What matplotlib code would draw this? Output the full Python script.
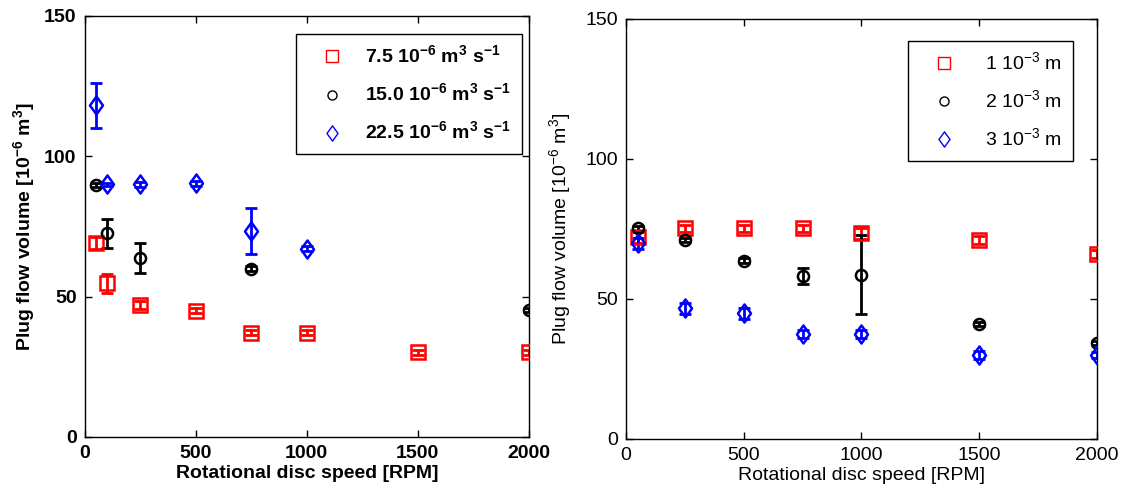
import matplotlib
matplotlib.use('Agg')
import matplotlib.pyplot as plt
from matplotlib.path import Path
import numpy as np

plt.rcParams['font.family'] = ['Liberation Sans', 'DejaVu Sans']
plt.rcParams['mathtext.fontset'] = 'custom'
plt.rcParams['mathtext.rm'] = 'Liberation Sans'
plt.rcParams['mathtext.bf'] = 'Liberation Sans:bold'

# left panel: different flow rates
l_red_x = [50, 100, 250, 500, 750, 1000, 1500, 2000]
l_red_y = [69.1, 54.7, 47.0, 45.0, 37.2, 37.2, 30.1, 30.1]
l_red_e = [2.0, 3.5, 1.5, 1.0, 0.8, 0.8, 0.8, 0.8]

l_blk_x = [50, 100, 250, 750, 2000]
l_blk_y = [89.7, 72.5, 63.7, 60.0, 45.2]
l_blk_e = [0.6, 5.3, 5.4, 1.0, 0.8]

l_blu_x = [50, 100, 250, 500, 750, 1000]
l_blu_y = [118.1, 90.0, 90.0, 90.3, 73.3, 67.1]
l_blu_e = [8.1, 0.5, 1.0, 1.0, 8.1, 1.0]

# right panel: different sizes
r_red_x = [50, 250, 500, 750, 1000, 1500, 2000]
r_red_y = [72.0, 75.2, 75.2, 75.2, 73.4, 71.1, 66.0]
r_red_e = [2.0, 1.2, 1.2, 1.2, 2.0, 1.5, 1.5]

r_blk_x = [50, 250, 500, 750, 1000, 1500, 2000]
r_blk_y = [75.2, 71.1, 63.7, 58.2, 58.6, 41.0, 34.2]
r_blk_e = [1.0, 0.8, 0.8, 2.7, 14.1, 0.8, 0.8]

r_blu_x = [50, 250, 500, 750, 1000, 1500, 2000]
r_blu_y = [69.9, 46.7, 44.9, 37.4, 37.4, 30.0, 30.0]
r_blu_e = [2.0, 2.0, 2.0, 1.5, 1.5, 1.5, 1.0]

left_labels = [r'7.5 10$^{\mathbf{-6}}$ m$^{\mathbf{3}}$ s$^{\mathbf{-1}}$',
               r'15.0 10$^{\mathbf{-6}}$ m$^{\mathbf{3}}$ s$^{\mathbf{-1}}$',
               r'22.5 10$^{\mathbf{-6}}$ m$^{\mathbf{3}}$ s$^{\mathbf{-1}}$']
right_labels = [r'1 10$^{-3}$ m', r'2 10$^{-3}$ m', r'3 10$^{-3}$ m']

xticks = [0, 500, 1000, 1500, 2000]
yticks = [0, 50, 100, 150]

# matlab-like diamond (taller than wide)
diamond = Path([(0, 1), (0.72, 0), (0, -1), (-0.72, 0), (0, 1)],
               [Path.MOVETO, Path.LINETO, Path.LINETO, Path.LINETO, Path.CLOSEPOLY])

FS = 14


def panel(ax, series, labels, weight, legend_box, ylab_x, textpad):
    styles = [('s', 'red', 10, 9), ('o', 'black', 8, 6.5), (diamond, 'blue', 13, 11)]
    handles = []
    for (x, y, e), (mk, c, ms, lms) in zip(series, styles):
        ax.errorbar(x, y, yerr=e, fmt='none', ecolor=c, elinewidth=2, capsize=4, capthick=2, zorder=2)
        ax.plot(x, y, linestyle='none', marker=mk, markersize=ms, mfc='none', mec=c, mew=1.8, zorder=3)
        handles.append(ax.plot([], [], linestyle='none', marker=mk, markersize=lms,
                               mfc='none', mec=c, mew=1.0)[0])
    ax.set_xlim(0, 2000)
    ax.set_ylim(0, 150)
    ax.set_xticks(xticks)
    ax.set_yticks(yticks)
    ax.tick_params(direction='in', top=True, right=True, length=5, width=1, labelsize=FS, pad=6)
    for lab in ax.get_xticklabels() + ax.get_yticklabels():
        lab.set_fontweight(weight)
    for sp in ax.spines.values():
        sp.set_linewidth(1)
    ax.set_xlabel('Rotational disc speed [RPM]', fontsize=FS, fontweight=weight, labelpad=2)
    if weight == 'bold':
        ax.set_ylabel(r'Plug flow volume [10$^{\mathbf{-6}}$ m$^{\mathbf{3}}$]', fontsize=FS, fontweight=weight)
    else:
        ax.set_ylabel(r'Plug flow volume [10$^{-6}$ m$^{3}$]', fontsize=FS, fontweight=weight)
    ax.yaxis.set_label_coords(ylab_x, 0.5)
    leg = ax.legend(handles, labels, loc='upper left', bbox_to_anchor=legend_box, fancybox=False,
                    edgecolor='black', framealpha=1, fontsize=FS, handletextpad=textpad,
                    borderpad=0.55, labelspacing=0.8, handlelength=2.6, borderaxespad=0)
    leg.get_frame().set_linewidth(1)
    for t in leg.get_texts():
        t.set_fontweight(weight)


fig = plt.figure(figsize=(11.32, 4.96), dpi=100)
ax1 = fig.add_axes([0.075, 0.119, 0.392, 0.849])
ax2 = fig.add_axes([0.553, 0.115, 0.416, 0.847])

panel(ax1, [(l_red_x, l_red_y, l_red_e), (l_blk_x, l_blk_y, l_blk_e), (l_blu_x, l_blu_y, l_blu_e)],
      left_labels, 'bold', (0.476, 0.957), -0.105, 0.4)
panel(ax2, [(r_red_x, r_red_y, r_red_e), (r_blk_x, r_blk_y, r_blk_e), (r_blu_x, r_blu_y, r_blu_e)],
      right_labels, 'normal', (0.598, 0.948), -0.110, 0.85)

fig.savefig('out.png', dpi=100)
